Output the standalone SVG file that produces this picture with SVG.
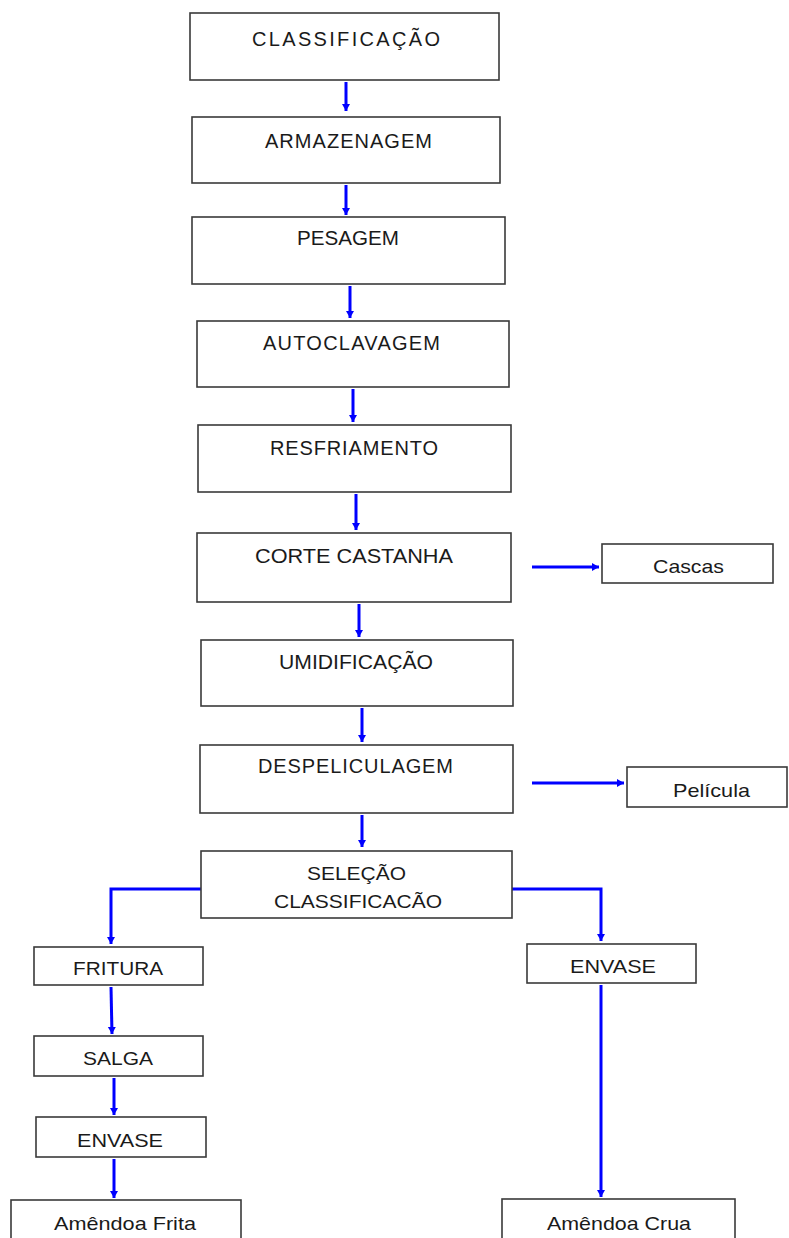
<svg xmlns="http://www.w3.org/2000/svg" width="789" height="1238" viewBox="0 0 789 1238">
<style>
.box{fill:#fff;stroke:#3a3a3a;stroke-width:1.6}
.t{font-family:"Liberation Sans",Arial,sans-serif;font-size:20px;fill:#1a1a1a;text-anchor:middle}
.s{font-family:"Liberation Sans",Arial,sans-serif;font-size:19px;fill:#1a1a1a;text-anchor:middle}
.c{fill:none;stroke:#0000ff;stroke-width:3;marker-end:url(#ah)}
</style>
<defs>
<marker id="ah" markerUnits="userSpaceOnUse" markerWidth="9" markerHeight="9" refX="7" refY="4" orient="auto">
<path d="M0,0 L7,4 L0,8 z" fill="#0000ff"/>
</marker>
</defs>
<rect width="789" height="1238" fill="#fff"/>
<g id="connectors">
<line class="c" x1="346" y1="82" x2="346" y2="111"/>
<line class="c" x1="346" y1="185" x2="346" y2="215"/>
<line class="c" x1="350" y1="286" x2="350" y2="318"/>
<line class="c" x1="353" y1="389" x2="353" y2="422"/>
<line class="c" x1="356" y1="494" x2="356" y2="530"/>
<line class="c" x1="359" y1="604" x2="359" y2="637"/>
<line class="c" x1="362" y1="708" x2="362" y2="742"/>
<line class="c" x1="362" y1="815" x2="362" y2="847"/>
<polyline class="c" points="201,889 111,889 111,944"/>
<polyline class="c" points="512,889 601,889 601,941"/>
<line class="c" x1="111" y1="987" x2="112" y2="1034"/>
<line class="c" x1="114" y1="1078" x2="114" y2="1115"/>
<line class="c" x1="114" y1="1159" x2="114" y2="1198"/>
<line class="c" x1="601" y1="985" x2="601" y2="1197"/>
<line class="c" x1="532" y1="567" x2="599" y2="567"/>
<line class="c" x1="532" y1="783" x2="624" y2="783"/>
</g>
<g id="n1"><rect class="box" x="190" y="13" width="309" height="67"/><text class="t" x="346" y="46" textLength="188" lengthAdjust="spacing">CLASSIFICAÇÃO</text></g>
<g id="n2"><rect class="box" x="192" y="117" width="308" height="66"/><text class="t" x="348.5" y="148" textLength="167" lengthAdjust="spacing">ARMAZENAGEM</text></g>
<g id="n3"><rect class="box" x="192" y="217" width="313" height="67"/><text class="t" x="348" y="245" textLength="102" lengthAdjust="spacingAndGlyphs">PESAGEM</text></g>
<g id="n4"><rect class="box" x="197" y="321" width="312" height="66"/><text class="t" x="351.5" y="350" textLength="177" lengthAdjust="spacing">AUTOCLAVAGEM</text></g>
<g id="n5"><rect class="box" x="198" y="425" width="313" height="67"/><text class="t" x="354" y="455" textLength="168" lengthAdjust="spacing">RESFRIAMENTO</text></g>
<g id="n6"><rect class="box" x="197" y="533" width="314" height="69"/><text class="t" x="354" y="563" textLength="198" lengthAdjust="spacingAndGlyphs">CORTE CASTANHA</text></g>
<g id="n7"><rect class="box" x="201" y="640" width="312" height="66"/><text class="t" x="356" y="669" textLength="154" lengthAdjust="spacingAndGlyphs">UMIDIFICAÇÃO</text></g>
<g id="n8"><rect class="box" x="200" y="745" width="313" height="68"/><text class="t" x="355.5" y="773" textLength="195" lengthAdjust="spacing">DESPELICULAGEM</text></g>
<g id="n9"><rect class="box" x="201" y="851" width="311" height="67"/><text class="s" x="356.5" y="880" textLength="99" lengthAdjust="spacingAndGlyphs">SELEÇÃO</text><text class="s" x="358" y="908" textLength="168" lengthAdjust="spacingAndGlyphs">CLASSIFICACÃO</text></g>
<g id="n10"><rect class="box" x="34" y="947" width="169" height="38"/><text class="s" x="118" y="975" textLength="90" lengthAdjust="spacingAndGlyphs">FRITURA</text></g>
<g id="n11"><rect class="box" x="527" y="944" width="169" height="39"/><text class="s" x="613" y="973" textLength="86" lengthAdjust="spacingAndGlyphs">ENVASE</text></g>
<g id="n12"><rect class="box" x="34" y="1036" width="169" height="40"/><text class="s" x="118" y="1065" textLength="70" lengthAdjust="spacingAndGlyphs">SALGA</text></g>
<g id="n13"><rect class="box" x="36" y="1117" width="170" height="40"/><text class="s" x="120" y="1147" textLength="86" lengthAdjust="spacingAndGlyphs">ENVASE</text></g>
<g id="n14"><rect class="box" x="11" y="1200" width="230" height="45"/><text class="s" x="125" y="1230" textLength="142" lengthAdjust="spacingAndGlyphs">Amêndoa Frita</text></g>
<g id="n15"><rect class="box" x="502" y="1199" width="233" height="46"/><text class="s" x="619" y="1230" textLength="144" lengthAdjust="spacingAndGlyphs">Amêndoa Crua</text></g>
<g id="n16"><rect class="box" x="602" y="544" width="171" height="39"/><text class="s" x="688.5" y="573" textLength="71" lengthAdjust="spacingAndGlyphs">Cascas</text></g>
<g id="n17"><rect class="box" x="627" y="767" width="160" height="40"/><text class="s" x="711.5" y="797" textLength="77" lengthAdjust="spacingAndGlyphs">Película</text></g>
</svg>
